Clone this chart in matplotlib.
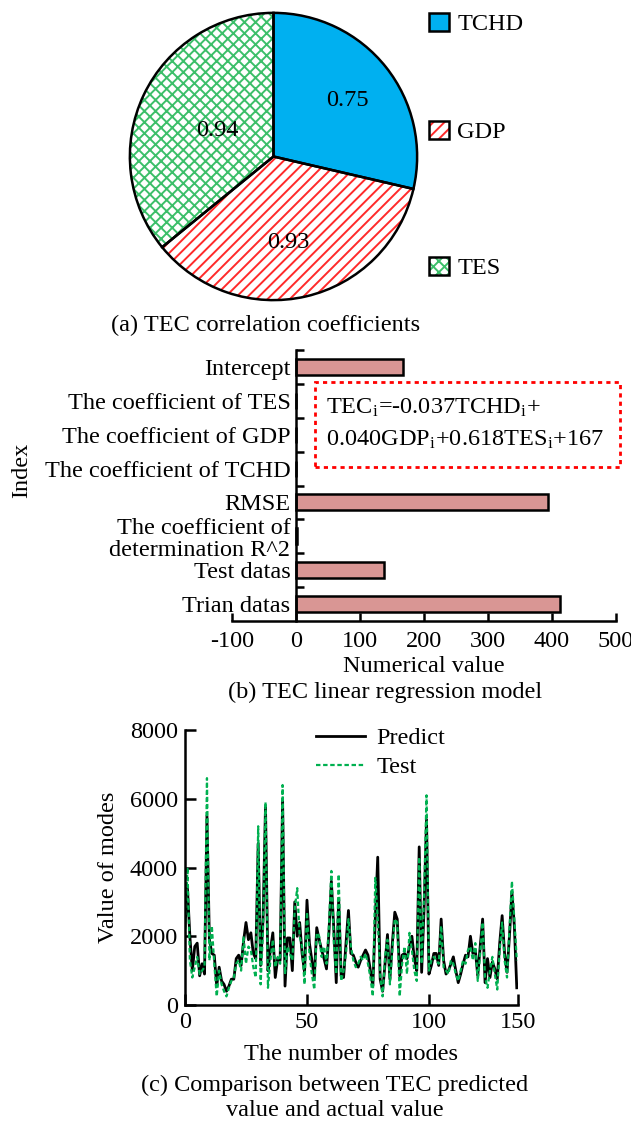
import matplotlib
matplotlib.use("Agg")
import matplotlib.pyplot as plt
from matplotlib.patches import Patch, Rectangle
from matplotlib.legend_handler import HandlerTuple

plt.rcParams['font.family'] = ['Liberation Serif', 'DejaVu Serif']
plt.rcParams['hatch.linewidth'] = 1.4
plt.rcParams['mathtext.fontset'] = 'stix'

# ---------------- data ----------------
pie_labels = ["TCHD", "GDP", "TES"]
pie_values = [0.75, 0.93, 0.94]

bar_categories = ["Trian datas", "Test datas", "The coefficient of\ndetermination R^2",
                  "RMSE", "The coefficient of TCHD", "The coefficient of GDP",
                  "The coefficient of TES", "Intercept"]
bar_values = [412, 137, 0.9, 394, -0.037, 0.040, 0.618, 167]

predict = [2300, 3400, 2000, 1000, 1700, 1800, 850, 1200, 900, 5500,
           1900, 1500, 1450, 550, 1100, 700, 600, 400, 550, 750,
           750, 1350, 1450, 1150, 1850, 2400, 1900, 2100, 1500, 1350,
           4700, 1150, 2500, 5800, 1000, 1600, 2100, 800, 1350, 1300,
           6000, 550, 1950, 1950, 1000, 3000, 2000, 2400, 1500, 950,
           3050, 1800, 1300, 800, 2250, 1900, 1600, 1350, 1050, 2100,
           3600, 2200, 650, 3100, 850, 800, 1800, 2750, 1500, 1450,
           1250, 1100, 1300, 1450, 1600, 1450, 1000, 550, 2500, 4300,
           750, 400, 1200, 2050, 750, 1800, 2700, 2500, 850, 1450,
           1500, 1350, 1700, 2000, 1350, 1000, 4600, 950, 2800, 5400,
           900, 1150, 1500, 1500, 1150, 2500, 1300, 900, 1000, 1200,
           1400, 1000, 650, 900, 1200, 1450, 1400, 2000, 1500, 1600,
           850, 1700, 2500, 650, 1350, 800, 1250, 1050, 750, 1800,
           2600, 1500, 950, 2000, 3300, 2300, 500]
test = [2000, 4000, 1300, 800, 1100, 1400, 900, 1000, 1100, 6600,
        1300, 2300, 1200, 250, 1000, 600, 400, 250, 500, 700,
        800, 1200, 1300, 1000, 2000, 1200, 1700, 1600, 1100, 800,
        5200, 600, 2200, 5900, 500, 1300, 1900, 1100, 1400, 1200,
        6400, 900, 1700, 1500, 1300, 2800, 3400, 2000, 1700, 600,
        2700, 1500, 900, 450, 2100, 2000, 1400, 1700, 1200, 2300,
        3900, 1800, 900, 3800, 700, 1000, 1500, 2500, 1700, 1300,
        1100, 1200, 1400, 1300, 1500, 1200, 800, 250, 3700, 2500,
        900, 250, 1400, 1900, 600, 1600, 2500, 2400, 250, 1200,
        1700, 900, 2100, 1600, 1000, 700, 4300, 1200, 3200, 6100,
        1000, 1300, 1400, 1300, 1200, 2300, 1100, 1000, 900, 1300,
        1200, 900, 700, 1000, 1300, 1200, 1600, 1700, 1300, 1800,
        700, 1500, 2400, 800, 500, 1000, 1400, 900, 450, 1600,
        2400, 1300, 800, 2200, 3600, 2500, 1300]
x_ticks = [0, 50, 100, 136.5]
x_ticklabels = ["0", "50", "100", "150"]
y_ticks = [0, 2000, 4000, 6000, 8000]

# ---------------- figure ----------------
W, H = 631, 1130
fig = plt.figure(figsize=(W / 100, H / 100), dpi=100)
FS = 17.5


def ax_px(l, t, r, b):
    return fig.add_axes([l / W, 1 - b / H, (r - l) / W, (b - t) / H])


def fx(x):
    return x / W


def fy(y):
    return 1 - y / H


# ---------------- (a) pie ----------------
axp = ax_px(127, 10, 420, 303)
fills = ['#00b0f0', 'white', 'white']
hatch_cols = ['#00b0f0', '#ff2a2a', '#3cbf6a']
hatches = [None, '///', 'xxx']
wedges, _ = axp.pie(pie_values, startangle=90, counterclock=False, radius=1.0)
for w, fc, hc, h in zip(wedges, fills, hatch_cols, hatches):
    w.set_facecolor(fc)
    w.set_edgecolor(hc)
    w.set_linewidth(0)
    if h:
        w.set_hatch(h)
wedges2, _ = axp.pie(pie_values, startangle=90, counterclock=False, radius=1.0,
                     wedgeprops=dict(facecolor='none', edgecolor='black', linewidth=1.8))
axp.set_xlim(-1.02, 1.02)
axp.set_ylim(-1.02, 1.02)
axp.set_aspect('equal')
axp.axis('off')
label_pos = [(347, 100), (288, 242), (217, 130)]
for (px, py), v in zip(label_pos, pie_values):
    fig.text(fx(px), fy(py), f"{v:.2f}", ha='center', va='center', fontsize=FS)

leg_y = [24, 132, 268]
for lab, fc, hc, h, yy in zip(pie_labels, fills, hatch_cols, hatches, leg_y):
    p1 = Patch(facecolor=fc, edgecolor=hc, hatch=h, linewidth=0)
    p2 = Patch(facecolor='none', edgecolor='black', linewidth=1.8)
    fig.legend([(p1, p2)], [lab], handler_map={tuple: HandlerTuple(ndivide=1)},
               loc='center left', bbox_to_anchor=(fx(429), fy(yy)), frameon=False,
               fontsize=FS, handlelength=0.82, handleheight=0.82, handletextpad=0.35,
               borderpad=0, borderaxespad=0)

fig.text(fx(266), fy(325), "(a) TEC correlation coefficients", ha='center', va='center', fontsize=FS)

# ---------------- (b) bar ----------------
axb = ax_px(232, 350, 616, 621)
pos = list(range(len(bar_categories)))
axb.barh(pos, bar_values, height=0.47, color='#d99694', edgecolor='black', linewidth=1.8)
axb.set_xlim(-100, 500)
axb.set_ylim(-0.5, len(bar_categories) - 0.5)
axb.spines['top'].set_visible(False)
axb.spines['right'].set_visible(False)
axb.spines['left'].set_position(('data', 0))
for s in ['left', 'bottom']:
    axb.spines[s].set_linewidth(1.8)
axb.set_xticks([-100, 0, 100, 200, 300, 400, 500])
axb.set_xticklabels(["-100", "0", "100", "200", "300", "400", "500"])
axb.set_yticks(pos)
axb.set_yticklabels(bar_categories, linespacing=1.05)
axb.set_yticks([p + 0.5 for p in pos], minor=True)
axb.tick_params(axis='y', which='major', length=0, pad=4, labelsize=FS)
axb.tick_params(axis='y', which='minor', direction='in', length=6, width=1.8)
axb.tick_params(axis='x', direction='in', length=6, width=1.8, labelsize=FS, pad=7)
axb.set_xlabel("Numerical value", fontsize=FS, labelpad=3)
fig.text(fx(22), fy(470), "Index", rotation=90, ha='center', va='center', fontsize=FS)
fig.text(fx(385), fy(692), "(b) TEC linear regression model", ha='center', va='center', fontsize=FS)

box = Rectangle((fx(315), fy(467)), fx(620) - fx(315), fy(382) - fy(467),
                transform=fig.transFigure, fill=False, edgecolor='#ff0000',
                linestyle=(0, (1.5, 1.5)), linewidth=2)
fig.add_artist(box)
fig.text(fx(326), fy(408), r"TEC$_\mathregular{i}$=-0.037TCHD$_\mathregular{i}$+",
         ha='left', va='center', fontsize=FS)
fig.text(fx(326), fy(440),
         r"0.040GDP$_\mathregular{i}$+0.618TES$_\mathregular{i}$+167",
         ha='left', va='center', fontsize=FS)

# ---------------- (c) line ----------------
axl = ax_px(185, 730, 518, 1005)
xs = list(range(len(predict)))
axl.plot(xs, predict, color='black', linewidth=2, label='Predict')
axl.plot(xs, test, color='#00b050', linewidth=1.6, linestyle=(0, (2, 1.2)), label='Test')
axl.set_xlim(0, 136.5)
axl.set_ylim(0, 8000)
axl.set_xticks(x_ticks)
axl.set_xticklabels(x_ticklabels)
axl.set_yticks(y_ticks)
axl.spines['top'].set_visible(False)
axl.spines['right'].set_visible(False)
for s in ['left', 'bottom']:
    axl.spines[s].set_linewidth(1.8)
axl.tick_params(direction='in', length=8, width=1.8, labelsize=FS, pad=5)
axl.set_xlabel("The number of modes", fontsize=FS, labelpad=8)
axl.set_ylabel("Value of modes", fontsize=FS, labelpad=8)
axl.legend(loc='upper left', bbox_to_anchor=(fx(316), fy(727)), bbox_transform=fig.transFigure,
           frameon=False, fontsize=FS, handlelength=2.0, handletextpad=0.5,
           borderpad=0, borderaxespad=0, labelspacing=0.3)
fig.text(fx(335), fy(1085), "(c) Comparison between TEC predicted", ha='center', va='center', fontsize=FS)
fig.text(fx(335), fy(1111), "value and actual value", ha='center', va='center', fontsize=FS)

fig.savefig("out.png", dpi=100)
